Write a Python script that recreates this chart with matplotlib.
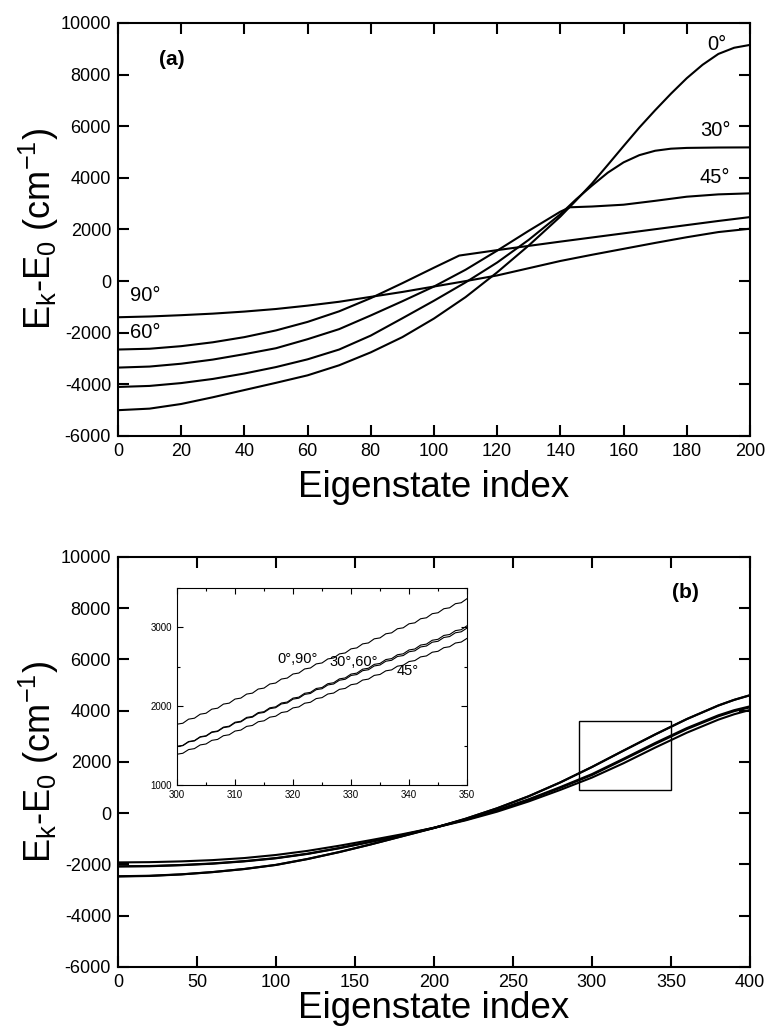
import numpy as np
import matplotlib
matplotlib.use("Agg")
import matplotlib.pyplot as plt

plt.rcParams["font.family"] = ["Liberation Sans", "DejaVu Sans"]
plt.rcParams["mathtext.default"] = "regular"
plt.rcParams["axes.unicode_minus"] = False

# ---------- (a) 200 states ----------
k0 = [0, 10, 20, 30, 40, 50, 60, 70, 80, 90, 100, 110, 120, 130, 140, 145, 150, 155,
      160, 165, 170, 175, 180, 185, 190, 195, 200]
ea_0 = [-5000, -4940, -4760, -4500, -4220, -3940, -3650, -3260, -2760, -2170, -1450,
        -620, 340, 1380, 2500, 3130, 3780, 4500, 5230, 5950, 6620, 7260, 7860, 8380,
        8800, 9040, 9150]
k30 = [0, 10, 20, 30, 40, 50, 60, 70, 80, 90, 100, 110, 120, 130, 140, 145, 150, 155,
       160, 165, 170, 175, 180, 190, 200]
ea_30 = [-4100, -4060, -3950, -3790, -3580, -3330, -3030, -2650, -2110, -1440, -760,
         -50, 720, 1600, 2590, 3170, 3700, 4200, 4600, 4880, 5050, 5130, 5160, 5175, 5180]
k45 = [0, 10, 20, 30, 40, 50, 60, 70, 80, 90, 100, 110, 120, 130, 140, 143, 150, 160,
       170, 180, 190, 200]
ea_45 = [-3350, -3310, -3200, -3040, -2830, -2600, -2250, -1860, -1330, -780, -210,
         440, 1180, 1950, 2690, 2860, 2890, 2960, 3110, 3270, 3360, 3400]
k60 = [0, 10, 20, 30, 40, 50, 60, 70, 80, 90, 100, 108, 120, 140, 160, 180, 190, 200]
ea_60 = [-2650, -2620, -2520, -2370, -2170, -1910, -1580, -1170, -660, -80, 520, 990,
         1200, 1530, 1850, 2170, 2330, 2480]
k90 = [0, 10, 20, 30, 40, 50, 60, 70, 80, 90, 100, 110, 120, 130, 140, 150, 160, 170,
       180, 190, 200]
ea_90 = [-1400, -1370, -1320, -1260, -1180, -1080, -950, -800, -610, -420, -210,
         0, 220, 500, 780, 1020, 1250, 1480, 1700, 1900, 2030]

# ---------- (b) 400 states ----------
kb = [0, 20, 40, 60, 80, 100, 120, 140, 160, 180, 200, 220, 240, 260, 280, 300,
      320, 340, 360, 380, 390, 400]
eb_0 = [-2470, -2450, -2390, -2300, -2180, -2020, -1790, -1520, -1220, -900, -580,
        -220, 190, 660, 1200, 1800, 2440, 3070, 3670, 4200, 4420, 4600]
eb_90 = [-2460, -2440, -2385, -2295, -2175, -2015, -1785, -1515, -1215, -895, -575,
         -215, 195, 665, 1205, 1805, 2445, 3075, 3675, 4205, 4425, 4605]
eb_30 = [-2080, -2070, -2030, -1970, -1880, -1760, -1590, -1370, -1120, -860, -575,
         -260, 100, 520, 990, 1490, 2090, 2700, 3280, 3780, 3980, 4130]
eb_60 = [-2070, -2060, -2020, -1960, -1870, -1750, -1580, -1360, -1110, -850, -565,
         -245, 120, 545, 1020, 1525, 2125, 2740, 3320, 3820, 4020, 4170]
eb_45 = [-1920, -1910, -1880, -1830, -1750, -1630, -1470, -1270, -1050, -820, -570,
         -280, 60, 460, 910, 1390, 1950, 2560, 3140, 3650, 3860, 4030]

# inset, states 300-350: levels come in near-degenerate pairs,
# lower member of each pair (even index) listed, upper member = lower + split
ki_pair = list(range(300, 351, 2))
pi_0 = [1771, 1835, 1898, 1962, 2026, 2090, 2153, 2217, 2281, 2344, 2408, 2472, 2536,
        2599, 2663, 2727, 2790, 2854, 2918, 2982, 3045, 3109, 3173, 3236, 3300, 3364]
pi_30 = [1487, 1547, 1607, 1667, 1727, 1788, 1848, 1908, 1968, 2028, 2089, 2149, 2209,
         2269, 2329, 2389, 2450, 2510, 2570, 2630, 2690, 2751, 2811, 2871, 2931, 2991]
pi_60 = [1490, 1551, 1612, 1673, 1734, 1796, 1857, 1918, 1979, 2040, 2102, 2163, 2224,
         2285, 2346, 2407, 2469, 2530, 2591, 2652, 2713, 2775, 2836, 2897, 2958, 3020]
pi_45 = [1390, 1449, 1508, 1566, 1625, 1684, 1743, 1802, 1860, 1919, 1978, 2037, 2096,
         2154, 2213, 2272, 2331, 2390, 2448, 2507, 2566, 2625, 2684, 2742, 2801, 2860]
split = 12

def pairs(lo):
    k, e = [], []
    for j, v in enumerate(lo):
        k.append(ki_pair[j]); e.append(v)
        if j < len(lo) - 1:
            k.append(ki_pair[j] + 1); e.append(v + split)
    return k, e

fig = plt.figure(figsize=(7.68, 10.30), dpi=100)
axa = fig.add_axes([0.1536, 0.5767, 0.8229, 0.4010])
axb = fig.add_axes([0.1536, 0.0612, 0.8229, 0.3981])

lw = 1.5
for x, y in [(k0, ea_0), (k30, ea_30), (k45, ea_45), (k60, ea_60), (k90, ea_90)]:
    axa.plot(x, y, color="black", lw=lw)
for y in (eb_0, eb_90, eb_30, eb_60, eb_45):
    axb.plot(kb, y, color="black", lw=lw)

def style(ax, xmax, xstep):
    ax.set_xlim(0, xmax)
    ax.set_ylim(-6000, 10000)
    ax.set_xticks(np.arange(0, xmax + 1, xstep))
    ax.set_yticks(np.arange(-6000, 10001, 2000))
    ax.tick_params(direction="in", length=8, width=1.5, top=True, right=True,
                   labelsize=13, pad=5)
    for s in ax.spines.values():
        s.set_linewidth(1.5)
    ax.set_ylabel("E$_k$-E$_0$ (cm$^{-1}$)", fontsize=26, labelpad=0)

style(axa, 200, 20)
style(axb, 400, 50)
axa.set_xlabel("Eigenstate index", fontsize=26.5, labelpad=7)
axb.set_xlabel("Eigenstate index", fontsize=26.5, labelpad=0)

axa.text(17, 8600, "(a)", fontsize=15, fontweight="bold", ha="center", va="center")
axb.text(359, 8630, "(b)", fontsize=15, fontweight="bold", ha="center", va="center")

for x, y, s in [(189.6, 9180, "0°"), (189, 5850, "30°"), (189, 4030, "45°"),
                (8.7, -540, "90°"), (8.7, -1975, "60°")]:
    axa.text(x, y, s, fontsize=14.5, ha="center", va="center")

# zoom box on (b)
axb.add_patch(plt.Rectangle((292, 900), 58, 2700, fill=False, lw=1.0, color="black"))

ins = fig.add_axes([0.2305, 0.2379, 0.3776, 0.1913])
for lo in (pi_0, pi_30, pi_60, pi_45):
    ins.plot(*pairs(lo), color="black", lw=0.8)
ins.set_xlim(300, 350)
ins.set_ylim(1000, 3500)
ins.set_xticks(np.arange(300, 351, 10))
ins.set_xticks(np.arange(300, 351, 5), minor=True)
ins.set_yticks([1000, 2000, 3000])
ins.set_yticks(np.arange(1000, 3501, 500), minor=True)
ins.tick_params(which="both", direction="in", top=True, right=True, labelsize=7, width=0.8)
ins.tick_params(which="major", length=4)
ins.tick_params(which="minor", length=2)
for s in ins.spines.values():
    s.set_linewidth(0.8)
ins.text(320.8, 2600, "0°,90°", fontsize=10.5, ha="center", va="center")
ins.text(330.5, 2555, "30°,60°", fontsize=10.5, ha="center", va="center")
ins.text(339.8, 2440, "45°", fontsize=10.5, ha="center", va="center")

fig.savefig("out.png", dpi=100)
